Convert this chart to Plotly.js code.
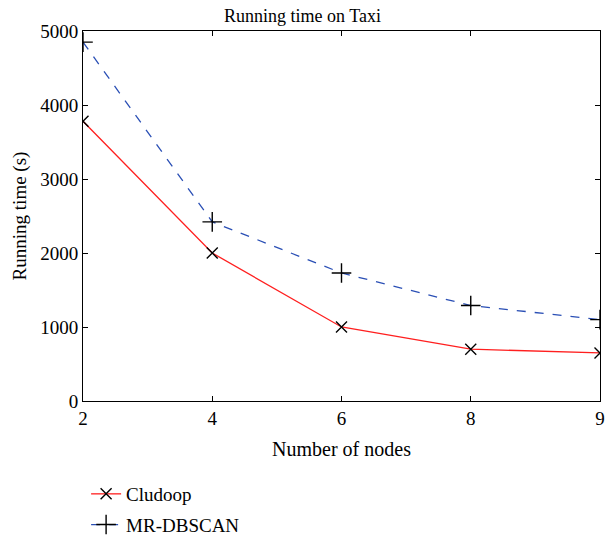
<!DOCTYPE html>
<html>
<head>
<meta charset="utf-8">
<script src="https://cdn.plot.ly/plotly-3.0.1.min.js"></script>
<style>html,body{margin:0;padding:0;background:#fff;}</style>
</head>
<body>
<div id="chart" style="width:605px;height:540px;"></div>
<script>
const nodes = ["2", "4", "6", "8", "9"];
const cludoop = [3780, 2000, 1000, 700, 650];
const mrdbscan = [4850, 2420, 1730, 1290, 1100];

const serif = "Liberation Serif, Times New Roman, serif";

const traces = [
  {
    x: nodes, y: cludoop, name: "Cludoop", type: "scatter", mode: "lines+markers",
    legendgroup: "a",
    line: {color: "#ff1f1f", width: 1.3},
    marker: {symbol: "x-thin", size: 11, color: "#000", line: {color: "#000", width: 1.4}}
  },
  {
    x: nodes, y: mrdbscan, name: "MR-DBSCAN", type: "scatter", mode: "lines+markers",
    legendgroup: "b",
    line: {color: "#2a4fb5", width: 1.3, dash: "dash"},
    marker: {symbol: "cross-thin", size: 14, color: "#000", line: {color: "#000", width: 1.4}}
  }
];

const layout = {
  width: 605, height: 540,
  margin: {l: 83, r: 5, t: 31, b: 139, autoexpand: false},
  paper_bgcolor: "#fff", plot_bgcolor: "#fff",
  font: {family: serif, color: "#000", size: 19},
  title: {text: "Running time on Taxi", font: {family: serif, size: 18, color: "#000"}, x: 0.5, xanchor: "center", y: 0.982, yanchor: "top"},
  xaxis: {
    type: "category", range: [0, 4], showgrid: false, zeroline: false,
    showline: true, linecolor: "#000", linewidth: 1, mirror: "ticks",
    ticks: "inside", ticklen: 5, tickcolor: "#000",
    tickfont: {family: serif, size: 19},
    title: {text: "Number of nodes", font: {family: serif, size: 20}, standoff: 14}
  },
  yaxis: {
    range: [0, 5000], tickvals: [0, 1000, 2000, 3000, 4000, 5000],
    showgrid: false, zeroline: false,
    showline: true, linecolor: "#000", linewidth: 1, mirror: "ticks",
    ticks: "inside", ticklen: 5, tickcolor: "#000",
    tickfont: {family: serif, size: 19},
    title: {text: "Running time (s)", font: {family: serif, size: 19}, standoff: 8}
  },
  legend: {
    x: 0.006, y: -0.2, xanchor: "left", yanchor: "top",
    bgcolor: "rgba(0,0,0,0)", font: {family: serif, size: 19},
    tracegroupgap: 3, itemwidth: 30
  },
  showlegend: true
};

Plotly.newPlot("chart", traces, layout, {displayModeBar: false, staticPlot: true});
</script>
</body>
</html>
